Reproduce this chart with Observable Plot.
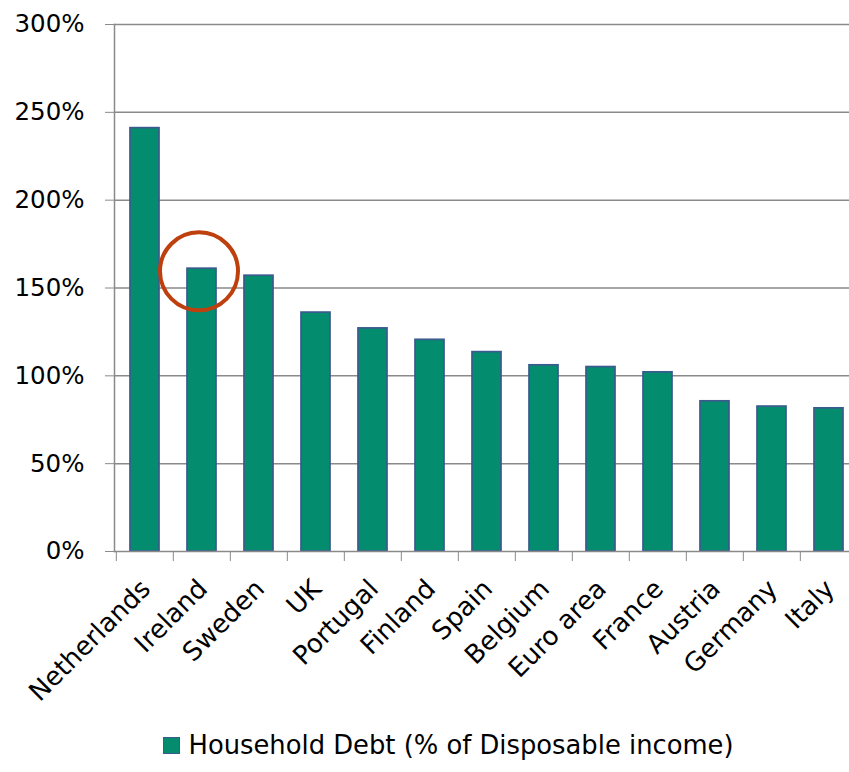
<!DOCTYPE html>
<html>
<head>
<meta charset="utf-8">
<script src="https://cdn.jsdelivr.net/npm/d3@7"></script>
<script src="https://cdn.jsdelivr.net/npm/@observablehq/plot@0.6"></script>
<style>
  html, body { margin: 0; padding: 0; background: #fff; }
  #chart svg { display: block; }
  .legend { font-family: "DejaVu Sans", sans-serif; font-size: 25.8px; color: #000;
    display: flex; align-items: center; justify-content: center; height: 54px; padding-left: 48px; }
  .legend .sw { width: 15px; height: 15px; background: #038c6e; border: 1.5px solid #3b5a8e; margin-right: 8px; }
</style>
</head>
<body>
<div id="chart"></div>
<div class="legend"><span class="sw"></span><span>Household Debt (% of Disposable income)</span></div>
<script>
const countries = ["Netherlands","Ireland","Sweden","UK","Portugal","Finland","Spain","Belgium","Euro area","France","Austria","Germany","Italy"];
const debt = [241, 161, 157, 136, 127, 120.5, 113.5, 106, 105, 102, 85.5, 82.5, 81.5];
const yTicks = [0, 50, 100, 150, 200, 250, 300];
const gridTicks = [50, 100, 150, 200, 250, 300];
const highlightCountry = "Ireland";
const highlightValue = 159.5;

const data = countries.map((c, i) => ({country: c, value: debt[i]}));

const W = 849, H = 718;
const mL = 114, mT = 24, mB = 167;
const step = 57.33;

const chart = Plot.plot({
  width: W, height: H,
  marginTop: mT, marginBottom: mB, marginLeft: mL, marginRight: 0,
  style: {fontFamily: "DejaVu Sans, sans-serif", fontSize: "24px", background: "#fff", color: "#000"},
  x: {domain: countries, range: [mL, mL + step * countries.length], paddingInner: 0.49, paddingOuter: 0.245, axis: null},
  y: {domain: [0, 300], axis: null},
  marks: [
    Plot.ruleY(gridTicks, {stroke: "#8a8a8a", strokeWidth: 1.5}),
    Plot.barY(data, {x: "country", y: "value", fill: "#038c6e", stroke: "#3b5a8e", strokeWidth: 1.7}),
    Plot.frame({anchor: "left", stroke: "#8a8a8a", strokeWidth: 1.5}),
    Plot.ruleY([0], {stroke: "#8a8a8a", strokeWidth: 1.5}),
    Plot.axisY({ticks: yTicks, tickFormat: d => d + "%", tickSize: 9, tickPadding: 21, fontSize: 24.5, stroke: "#8a8a8a", fill: "#000", label: null}),
    Plot.axisX({tickSize: 10, tickFormat: () => "", dx: -step / 2, stroke: "#8a8a8a", label: null}),
    Plot.axisX({tickSize: 0, tickRotate: -45, tickPadding: 33, fontSize: 26, fill: "#000", dx: 1, label: null}),
    Plot.dot([{country: highlightCountry, value: highlightValue}], {x: "country", y: "value", r: 39, stroke: "#be400f", strokeWidth: 4, fill: "none", dx: -3})
  ]
});
document.getElementById("chart").appendChild(chart);
</script>
</body>
</html>
